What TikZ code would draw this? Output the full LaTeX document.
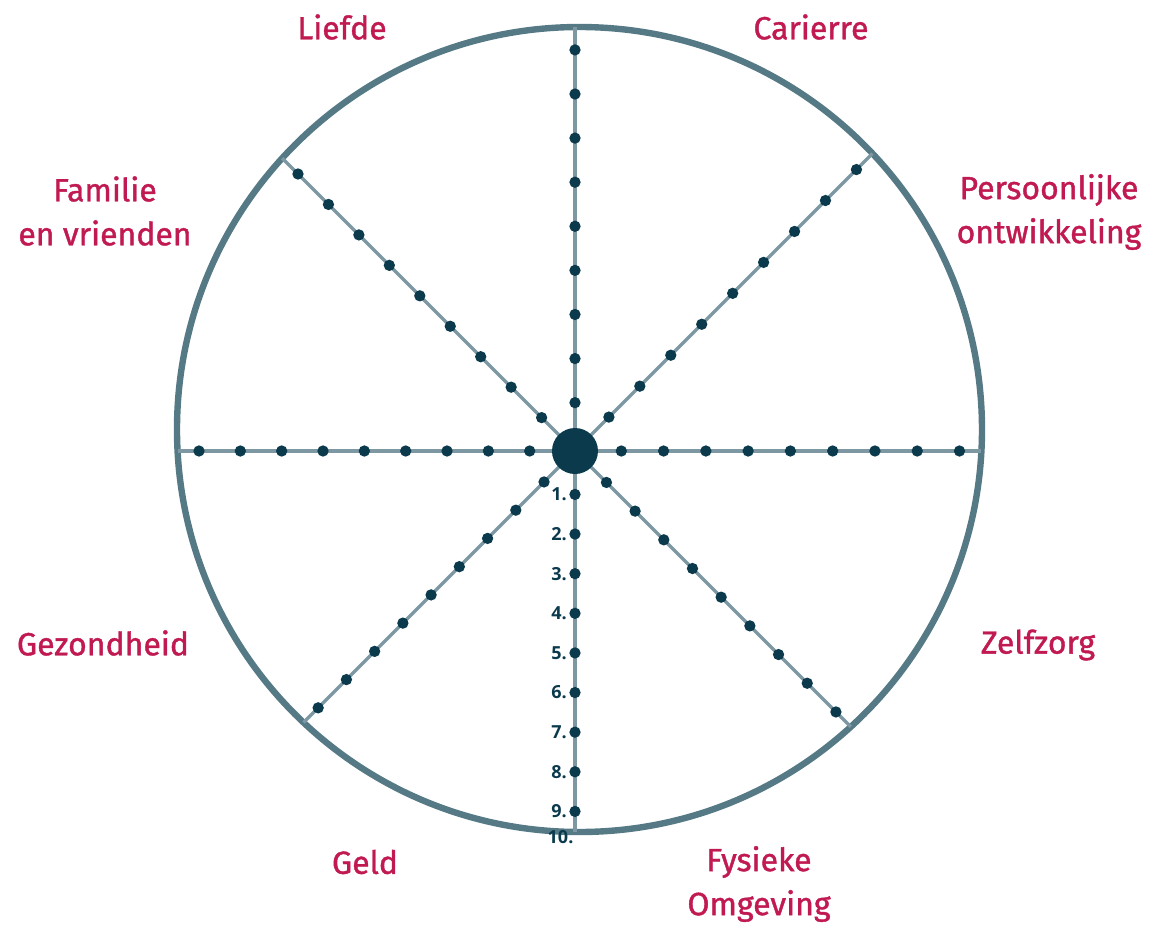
\documentclass[tikz,border=0pt]{standalone}
\usepackage{xcolor}
\usepackage{fontspec}
\setmainfont{Fira Sans}
\newfontfamily\numfont{Open Sans}
\newfontfamily\areafont[FakeBold=1.2]{Fira Sans}
\usepackage{tikz}
\usetikzlibrary{positioning}

\definecolor{rimblue}{HTML}{557A86}
\definecolor{spokeblue}{HTML}{7D98A3}
\definecolor{navy}{HTML}{0B3A4D}
\definecolor{wheelred}{HTML}{C01A50}

\begin{document}
\begin{tikzpicture}[
  x=75pt, y=75pt,
  rim/.style={draw=rimblue, line width=4.8pt},
  spoke/.style={draw=spokeblue, line width=2.5pt},
  dot/.style={circle, fill=navy, inner sep=0pt, minimum size=8.5pt},
  hub/.style={circle, fill=navy, inner sep=0pt, minimum size=34.5pt},
  area/.style={text=wheelred, align=center, font=\areafont\fontsize{24}{33}\selectfont},
  num/.style={text=navy, inner sep=0pt, font=\numfont\bfseries\fontsize{13.5}{15}\selectfont}
]
\useasboundingbox (-5.75,-4.78) rectangle (5.86,4.51);

% the rim is not centred on the hub: its centre sits a little higher
\coordinate (mid) at (0,0);
\coordinate (rimc) at (0.045,0.215);
\draw[rim] (rimc) circle (4.025);

% spokes run from the hub out to the rim, nine marks on each
\foreach \a in {0,45,...,315}{
  \pgfmathsetmacro\uc{0.045*cos(\a)+0.215*sin(\a)}
  \pgfmathsetmacro\len{\uc+sqrt(\uc*\uc-0.04825+16.2006)}
  \coordinate (e\a) at (\a:\len);
  \draw[spoke] (mid) -- (e\a);
  \foreach \k in {1,...,9}{
    \node[dot] (d\a-\k) at (\a:{\len*(0.01+0.104*\k)}) {};
  }
}

\node[hub] (centre) at (mid) {};

% scale along the lower spoke
\foreach \k in {1,...,9}{
  \node[num, left=1.5pt of d270-\k] (n\k) {\k.};
}
\node[num, anchor=north east, xshift=-1pt, yshift=1pt] (n10) at (e270) {10.};

% life areas
\node[area] (liefde) at (-2.33,4.24) {Liefde};
\node[area] (carriere) at (2.36,4.24) {Carierre};
\node[area] (familie) at (-4.70,2.40) {Familie\\en vrienden};
\node[area] (groei) at (4.74,2.39) {Persoonlijke\\ontwikkeling};
\node[area] (gezond) at (-4.72,-1.92) {Gezondheid};
\node[area] (zelfzorg) at (4.63,-1.94) {Zelfzorg};
\node[area] (geld) at (-2.10,-4.11) {Geld};
\node[area] (omgeving) at (1.84,-4.33) {Fysieke\\Omgeving};
\end{tikzpicture}
\end{document}
